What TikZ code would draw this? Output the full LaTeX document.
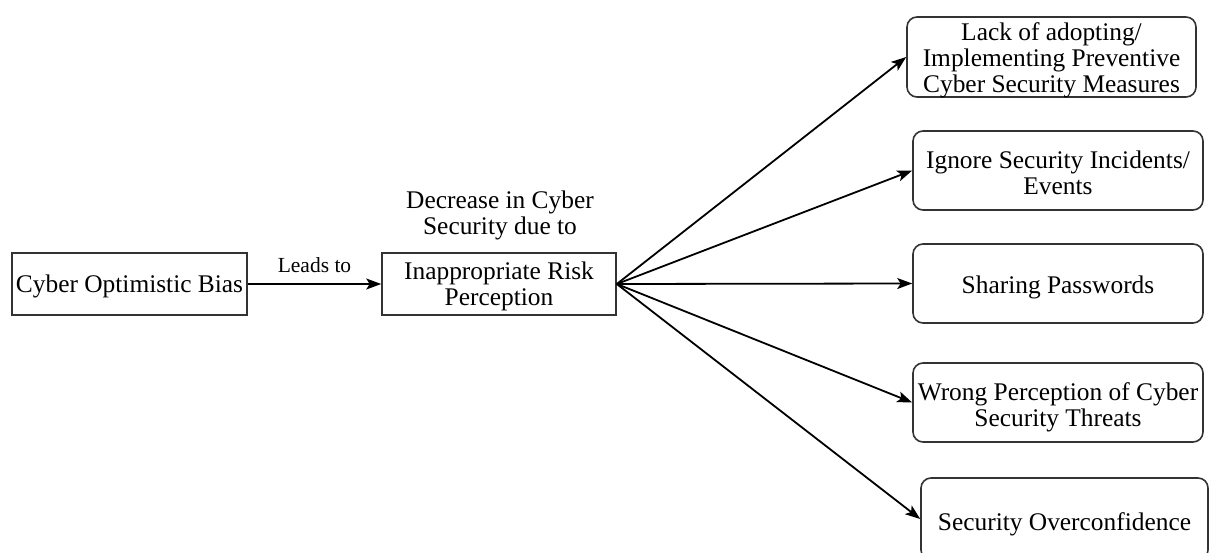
\documentclass[tikz,border=0pt]{standalone}
\usepackage{fontspec}
\setmainfont{Liberation Serif}
\usetikzlibrary{arrows.meta}
\newcommand{\lowt}[2][-3.5pt]{\raisebox{#1}[\height][\depth]{\begin{tabular}{@{}c@{}}#2\end{tabular}}}
\begin{document}
\begin{tikzpicture}[x=1pt,y=-1pt,
  txt/.style={font=\fontsize{25.4}{26}\selectfont, align=center, inner sep=0pt},
  sqbox/.style={txt, draw=black!80, line width=1.6pt, minimum width=#1},
  rbox/.style={txt, draw=black!80, line width=1.6pt, rounded corners=10pt, minimum width=290pt, minimum height=79pt},
  arr/.style={line width=1.8pt, -{Stealth[length=15pt,width=11pt,inset=3.5pt]}}
]
\useasboundingbox (0,0) rectangle (1209,553);
\node[sqbox=235pt, minimum height=62pt] (bias) at (129.5,284) {\lowt{Cyber Optimistic Bias}};
\node[sqbox=234pt, minimum height=62pt] (risk) at (499,284) {\lowt{Inappropriate Risk\\Perception}};
\node[txt] (dec) at (500,215) {Decrease in Cyber\\Security due to};
\node[rbox, minimum width=289pt, minimum height=80pt] (lack) at (1051.5,57) {\lowt[-4.5pt]{Lack of adopting/\\Implementing Preventive\\Cyber Security Measures}};
\node[rbox] (ignore) at (1058,170.5) {\lowt[-6pt]{Ignore Security Incidents/\\Events}};
\node[rbox] (share) at (1058,283.5) {\lowt[-5pt]{Sharing Passwords}};
\node[rbox] (wrong) at (1058,402.5) {\lowt[-6pt]{Wrong Perception of Cyber\\Security Threats}};
\node[rbox, minimum width=287pt, minimum height=82pt] (over) at (1064.5,519) {\lowt[-6pt]{Security Overconfidence}};
\draw[arr] (bias.east) -- node[above=10pt, font=\fontsize{21.5}{22}\selectfont, inner sep=0pt] (leads) {Leads to} (risk.west);
\coordinate (fan) at (risk.east);
\draw[arr] (fan) -- (lack.west);
\draw[arr] (fan) -- (ignore.west);
\draw[arr] (fan) -- (share.west);
\draw[arr] (fan) -- (wrong.west);
\draw[arr] (fan) -- (over.west);
\end{tikzpicture}
\end{document}
